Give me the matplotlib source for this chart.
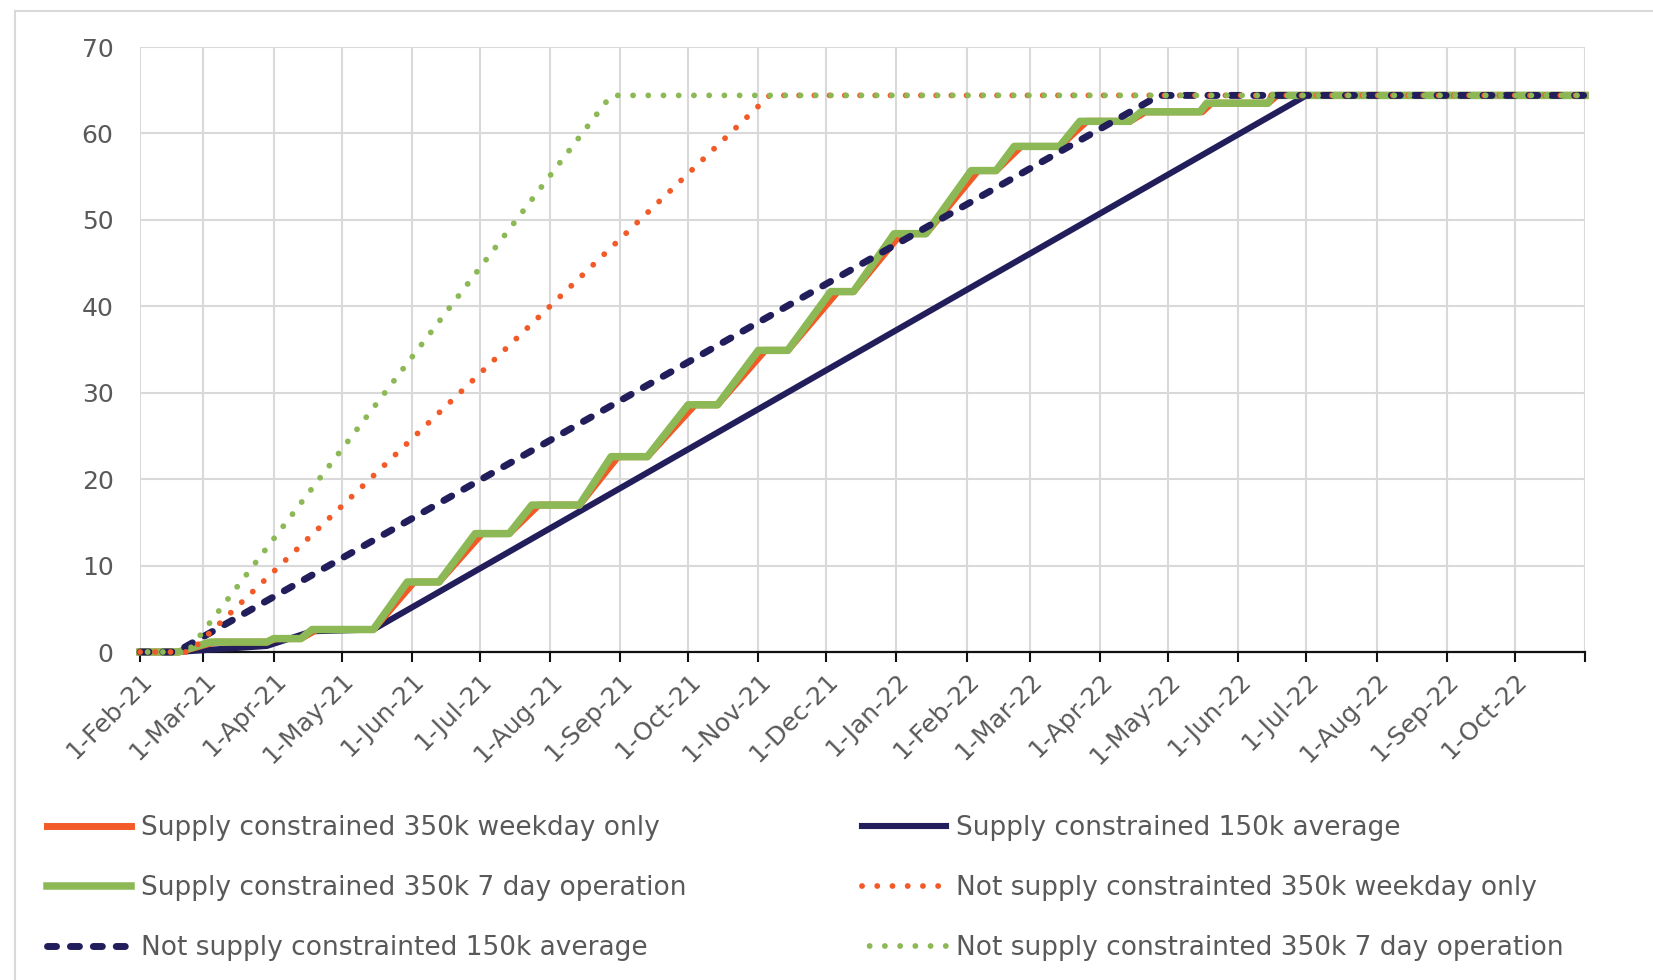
import matplotlib
matplotlib.use("Agg")
import matplotlib.pyplot as plt
from matplotlib.lines import Line2D
import pandas as pd

# ---- data ----
green_dates = ['2021-02-01', '2021-02-18', '2021-03-04', '2021-03-29', '2021-04-01', '2021-04-13',
               '2021-04-18', '2021-05-15', '2021-05-30', '2021-06-13', '2021-06-29', '2021-07-14',
               '2021-07-24', '2021-08-14', '2021-08-28', '2021-09-13', '2021-10-01', '2021-10-14',
               '2021-11-01', '2021-11-14', '2021-12-03', '2021-12-13', '2021-12-31', '2022-01-14',
               '2022-02-03', '2022-02-14', '2022-02-22', '2022-03-14', '2022-03-23', '2022-04-14',
               '2022-04-19', '2022-05-15', '2022-05-18', '2022-06-14', '2022-06-16', '2022-11-01']
green_vals = [0, 0, 1.15, 1.15, 1.55, 1.55, 2.6, 2.6, 8.1, 8.1, 13.7, 13.7, 17.0, 17.0, 22.6, 22.6,
              28.6, 28.6, 34.9, 34.9, 41.7, 41.7, 48.4, 48.4, 55.7, 55.7, 58.5, 58.5, 61.4, 61.4,
              62.5, 62.5, 63.5, 63.5, 64.4, 64.4]

orange_dates = ['2021-02-01', '2021-02-18', '2021-03-06', '2021-03-29', '2021-04-02', '2021-04-13',
                '2021-04-20', '2021-05-15', '2021-06-02', '2021-06-13', '2021-07-02', '2021-07-14',
                '2021-07-27', '2021-08-14', '2021-08-31', '2021-09-13', '2021-10-04', '2021-10-14',
                '2021-11-04', '2021-11-14', '2021-12-06', '2021-12-13', '2022-01-03', '2022-01-14',
                '2022-02-06', '2022-02-14', '2022-02-25', '2022-03-14', '2022-03-26', '2022-04-14',
                '2022-04-21', '2022-05-16', '2022-05-20', '2022-06-14', '2022-06-18', '2022-11-01']
orange_vals = [0, 0, 1.15, 1.15, 1.55, 1.55, 2.6, 2.6, 8.1, 8.1, 13.7, 13.7, 17.0, 17.0, 22.6, 22.6,
               28.6, 28.6, 34.9, 34.9, 41.7, 41.7, 48.4, 48.4, 55.7, 55.7, 58.5, 58.5, 61.4, 61.4,
               62.5, 62.5, 63.5, 63.5, 64.4, 64.4]

navy_dates = ['2021-02-01', '2021-02-17', '2021-03-29', '2021-04-18', '2021-05-15', '2022-07-01', '2022-11-01']
navy_vals = [0, 0, 0.7, 2.4, 2.6, 64.4, 64.4]

navy_ns_dates = ['2021-02-01', '2021-02-17', '2022-04-27', '2022-11-01']
navy_ns_vals = [0, 0, 64.4, 64.4]

orange_ns_dates = ['2021-02-01', '2021-02-23', '2021-11-06', '2022-11-01']
orange_ns_vals = [0, 0, 64.4, 64.4]

green_ns_dates = ['2021-02-01', '2021-02-22', '2021-08-28', '2022-11-01']
green_ns_vals = [0, 0, 64.4, 64.4]

labels = ['Supply constrained 350k weekday only',
          'Supply constrained 350k 7 day operation',
          'Not supply constrainted 150k average',
          'Supply constrained 150k average',
          'Not supply constrainted 350k weekday only',
          'Not supply constrainted 350k 7 day operation']

ORANGE = '#f25a28'
GREEN = '#8cb955'
NAVY = '#221e5c'
TXT = '#595959'

W, H = 1653, 980
fig = plt.figure(figsize=(W / 100, H / 100), dpi=100)
ax = fig.add_axes([140 / W, 1 - 652 / H, (1585 - 140) / W, (652 - 47) / H])

d = pd.to_datetime
l_navy, = ax.plot(d(navy_dates), navy_vals, color=NAVY, lw=4.4, zorder=3, clip_on=False)
l_orange, = ax.plot(d(orange_dates), orange_vals, color=ORANGE, lw=5.0, zorder=4, clip_on=False)
l_green, = ax.plot(d(green_dates), green_vals, color=GREEN, lw=5.4, zorder=5, clip_on=False)
l_navy_ns, = ax.plot(d(navy_ns_dates), navy_ns_vals, color=NAVY, lw=5, ls=(0, (1.3, 2.0)),
                     dash_capstyle='round', zorder=6, clip_on=False)
l_orange_ns, = ax.plot(d(orange_ns_dates), orange_ns_vals, color=ORANGE, lw=4.2, ls=(0, (0.01, 2.6)),
                       dash_capstyle='round', zorder=7, clip_on=False)
l_green_ns, = ax.plot(d(green_ns_dates), green_ns_vals, color=GREEN, lw=4.2, ls=(1.3, (0.01, 2.6)),
                      dash_capstyle='round', zorder=8, clip_on=False)

ax.set_xlim(d('2021-02-01'), d('2022-11-01'))
ax.set_ylim(0, 70)

months = pd.date_range('2021-02-01', '2022-11-01', freq='MS')
ax.set_xticks(months)
ax.set_xticklabels([f"{m.day}-{m:%b-%y}" if m < months[-1] else '' for m in months],
                   rotation=45, ha='right', va='top', rotation_mode='anchor')
ax.set_yticks(range(0, 71, 10))

ax.grid(True, color='#d9d9d9', lw=1.5)
ax.set_axisbelow(True)
for s in ['top', 'right', 'left']:
    ax.spines[s].set_visible(False)
ax.spines['bottom'].set_color('#111111')
ax.spines['bottom'].set_linewidth(1.6)
ax.tick_params(axis='x', length=7, width=1.5, color='#111111', labelsize=18, labelcolor=TXT, pad=5)
ax.tick_params(axis='y', length=0, labelsize=18, labelcolor=TXT, pad=19)

# legends, two columns placed by hand
leg_kw = dict(frameon=False, fontsize=19, handlelength=3.2, handletextpad=0.35,
              labelspacing=1.28, borderpad=0, borderaxespad=0, labelcolor=TXT, loc='center left')
fig.legend([l_orange, l_green, l_navy_ns], labels[:3], bbox_to_anchor=(47 / W, 1 - 888 / H), **leg_kw)
fig.legend([l_navy, l_orange_ns, l_green_ns], labels[3:], bbox_to_anchor=(862 / W, 1 - 888 / H), **leg_kw)

# thin outer frame of the chart box
fig.add_artist(Line2D([15 / W, 1], [1 - 11 / H, 1 - 11 / H], color='#d9d9d9', lw=1.5))
fig.add_artist(Line2D([15 / W, 15 / W], [0, 1 - 11 / H], color='#d9d9d9', lw=1.5))

fig.savefig('out.png', dpi=100)
